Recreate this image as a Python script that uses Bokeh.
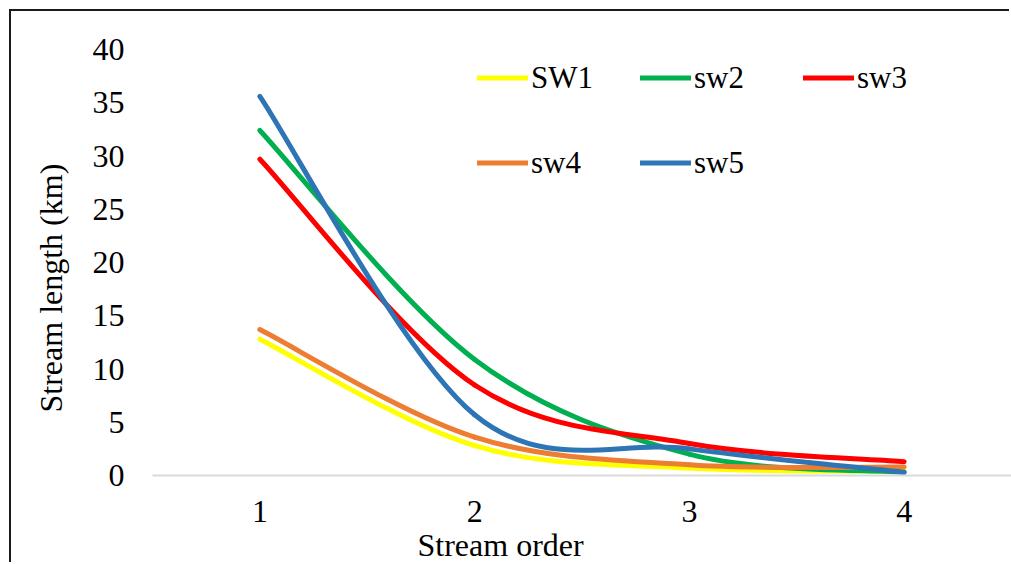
import numpy as np
from bokeh.plotting import figure
from bokeh.models import Range1d, FixedTicker, Legend, LegendItem, Title, InlineStyleSheet
from bokeh.embed import file_html
from bokeh.resources import INLINE

# ---- data ----
orders = [1, 2, 3, 4]
order_labels = ["1", "2", "3", "4"]
sw1 = [12.8, 2.8, 0.7, 0.4]
sw2 = [32.4, 10.9, 2.0, 0.3]
sw3 = [29.7, 8.5, 3.0, 1.3]
sw4 = [13.7, 3.6, 1.0, 0.8]
sw5 = [35.6, 5.7, 2.5, 0.3]
series_names = ["SW1", "sw2", "sw3", "sw4", "sw5"]
series_values = [sw1, sw2, sw3, sw4, sw5]
series_colors = ["#FFFF00", "#00B050", "#FF0000", "#ED7D31", "#2E75B6"]

FONT = "'Liberation Serif', 'Times New Roman', Times, serif"


def smooth_segments(xs, ys):
    """Excel-style smoothed line: cubic Bezier control points from neighbours."""
    xs = np.asarray(xs, float)
    ys = np.asarray(ys, float)
    n = len(xs)
    out = dict(x0=[], y0=[], x1=[], y1=[], cx0=[], cy0=[], cx1=[], cy1=[])
    for i in range(n - 1):
        pm = max(i - 1, 0)
        pp = min(i + 2, n - 1)
        out["x0"].append(xs[i]); out["y0"].append(ys[i])
        out["x1"].append(xs[i + 1]); out["y1"].append(ys[i + 1])
        out["cx0"].append(xs[i] + (xs[i + 1] - xs[pm]) / 6.0)
        out["cy0"].append(ys[i] + (ys[i + 1] - ys[pm]) / 6.0)
        out["cx1"].append(xs[i + 1] - (xs[pp] - xs[i]) / 6.0)
        out["cy1"].append(ys[i + 1] - (ys[pp] - ys[i]) / 6.0)
    return out


p = figure(width=1000, height=553,
           x_range=Range1d(0.5, 4.5), y_range=Range1d(0, 40),
           output_backend="svg", toolbar_location=None,
           min_border_left=141, min_border_right=0,
           min_border_top=38, min_border_bottom=89)
p.margin = (11, 0, 0, 11)
p.styles = {"box-shadow": "-2px -2px 0px 0px #1a1a1a", "overflow": "hidden"}
p.stylesheets = [InlineStyleSheet(css=(
    ":host { overflow: hidden !important; }\n"
    "* { scrollbar-width: none !important; }\n"
    "::-webkit-scrollbar { display: none !important; width: 0 !important; height: 0 !important; }\n"
))]

p.outline_line_color = None
p.background_fill_color = "white"
p.border_fill_color = "white"
p.xgrid.visible = False
p.ygrid.visible = False

# x axis
p.xaxis.ticker = FixedTicker(ticks=orders)
p.xaxis.major_label_overrides = {o: l for o, l in zip(orders, order_labels)}
p.xaxis.axis_line_color = "#D9D9D9"
p.xaxis.axis_line_width = 2
p.xaxis.major_tick_line_color = None
p.xaxis.minor_tick_line_color = None
p.xaxis.major_tick_out = 0
p.xaxis.major_tick_in = 0
p.xaxis.minor_tick_out = 0
p.xaxis.major_label_standoff = 25
p.xaxis.major_label_text_font = FONT
p.xaxis.major_label_text_font_size = "32px"
p.xaxis.major_label_text_color = "#000000"

# y axis
p.yaxis.ticker = FixedTicker(ticks=[0, 5, 10, 15, 20, 25, 30, 35, 40])
p.yaxis.axis_line_color = None
p.yaxis.major_tick_line_color = None
p.yaxis.minor_tick_line_color = None
p.yaxis.major_tick_out = 0
p.yaxis.major_tick_in = 0
p.yaxis.minor_tick_out = 0
p.yaxis.major_label_standoff = 28
p.yaxis.major_label_text_font = FONT
p.yaxis.major_label_text_font_size = "32px"
p.yaxis.major_label_text_color = "#000000"

items = []
for name, vals, col in zip(series_names, series_values, series_colors):
    seg = smooth_segments(orders, vals)
    r = p.bezier(x0=seg["x0"], y0=seg["y0"], x1=seg["x1"], y1=seg["y1"],
                 cx0=seg["cx0"], cy0=seg["cy0"], cx1=seg["cx1"], cy1=seg["cy1"],
                 line_color=col, line_width=5, line_cap="round")
    items.append(LegendItem(label=name, renderers=[r]))

legend = Legend(items=items, ncols=3, location=(325, 270),
                orientation="horizontal",
                glyph_width=51, glyph_height=85, label_height=85, label_width=109,
                label_standoff=3, spacing=0, padding=0, margin=0,
                border_line_color=None, background_fill_alpha=0,
                label_text_font=FONT, label_text_font_size="31px",
                label_text_color="#000000")
p.add_layout(legend, "center")

# axis titles
ytitle = Title(text="Stream length (km)", align="left", offset=63, standoff=38,
               vertical_align="top",
               text_font=FONT, text_font_size="32px", text_font_style="normal",
               text_color="#000000")
p.add_layout(ytitle, "left")
xtitle = Title(text="Stream order", align="left", offset=265, standoff=0,
               vertical_align="bottom",
               text_font=FONT, text_font_size="32px", text_font_style="normal",
               text_color="#000000")
p.add_layout(xtitle, "below")

html = file_html(p, INLINE)
html = html.replace(
    "<head>",
    "<head><style>html,body{margin:0;padding:0;overflow:hidden;}"
    "::-webkit-scrollbar{display:none;width:0;height:0;}"
    "*{scrollbar-width:none;}</style>", 1)
open("out.html", "w").write(html)
